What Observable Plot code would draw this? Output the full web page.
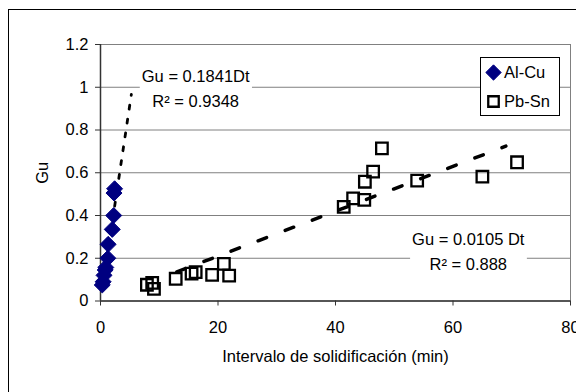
<!DOCTYPE html>
<html>
<head>
<meta charset="utf-8">
<script src="https://cdn.jsdelivr.net/npm/d3@7"></script>
<script src="https://cdn.jsdelivr.net/npm/@observablehq/plot@0.6"></script>
<style>
  body { margin: 0; background: #fff; }
  #wrap { position: relative; width: 576px; height: 392px; overflow: hidden; font-family: "Liberation Sans", Arial, sans-serif; }
  #outer { position: absolute; left: 8px; top: 9px; width: 700px; height: 500px; border-left: 1px solid #000; border-top: 1px solid #000; }
  #legend { position: absolute; left: 480px; top: 57px; width: 78px; height: 57px; border: 1px solid #000; background: #fff; font-size: 16.5px; }
  #legend .row { position: absolute; left: 0; height: 20px; display: flex; align-items: center; }
  #legend svg { margin-left: 4px; margin-right: 2px; }
</style>
</head>
<body>
<div id="wrap"><div id="outer"></div></div>
<script>
// Series names
const seriesNames = ["Al-Cu", "Pb-Sn"];

// Al-Cu data
const alCuDt = [0.3, 0.45, 0.6, 0.8, 0.9, 1.25, 1.3, 2.0, 2.25, 2.3, 2.4];
const alCuGu = [0.075, 0.09, 0.12, 0.145, 0.157, 0.2, 0.265, 0.335, 0.4, 0.505, 0.525];

// Pb-Sn data
const pbSnDt = [7.9, 8.8, 9.1, 12.8, 15.5, 16.2, 19.0, 21.0, 21.9, 41.4, 43.0, 44.9, 45.0, 46.4, 47.9, 53.9, 65.0, 70.9];
const pbSnGu = [0.076, 0.085, 0.057, 0.104, 0.128, 0.135, 0.122, 0.174, 0.119, 0.44, 0.48, 0.473, 0.558, 0.605, 0.714, 0.563, 0.582, 0.649];

// Trend lines (through origin): slope and x extent
const trendSlopes = [0.1841, 0.0105];
const trendXStart = [0.3, 13];
const trendXEnd = [5.25, 69];

// Trend labels
const trendLabels = ["Gu = 0.1841Dt\nR² = 0.9348", "Gu = 0.0105 Dt\nR² = 0.888"];
const trendLabelX = [16.2, 62.6];
const trendLabelY = [1.005, 0.24];

// Ticks
const xTicks = [0, 20, 40, 60, 80];
const yTicks = [0, 0.2, 0.4, 0.6, 0.8, 1, 1.2];

const alCu = alCuDt.map((d, i) => ({x: d, y: alCuGu[i]}));
const pbSn = pbSnDt.map((d, i) => ({x: d, y: pbSnGu[i]}));
const trend = trendSlopes.map((s, i) => [
  {x: trendXStart[i], y: s * trendXStart[i]},
  {x: trendXEnd[i], y: s * trendXEnd[i]}
]);
const labels = trendLabels.map((t, i) => ({t, x: trendLabelX[i], y: trendLabelY[i]}));

const plot = Plot.plot({
  width: 576,
  height: 392,
  marginLeft: 100,
  marginRight: 6,
  marginTop: 44,
  marginBottom: 91.5,
  style: {fontFamily: "Liberation Sans, Arial, sans-serif", fontSize: "16.5px", color: "#000", background: "transparent", overflow: "visible"},
  x: {domain: [0, 80]},
  y: {domain: [0, 1.2]},
  marks: [
    Plot.gridY(yTicks.slice(1), {stroke: "#808080", strokeOpacity: 1}),
    Plot.frame({stroke: "#808080"}),
    Plot.ruleX([0], {stroke: "#333", strokeWidth: 1.5}),
    Plot.ruleY([0], {stroke: "#333", strokeWidth: 1.5}),
    Plot.axisY({ticks: yTicks, tickSize: 5, tickPadding: 7, tickFormat: d => String(d), label: "Gu", labelAnchor: "center", labelOffset: 64, labelArrow: "none", stroke: "#333"}),
    Plot.axisX({ticks: xTicks, tickSize: 5, tickPadding: 15, tickFormat: d => String(d), label: "Intervalo de solidificación (min)", labelAnchor: "center", labelOffset: 61, labelArrow: "none", stroke: "#333"}),
    Plot.text(labels, {x: "x", y: "y", text: "t", fontSize: 16.5, lineHeight: 1.52, fill: "#000"}),
    Plot.line(trend[0], {x: "x", y: "y", stroke: "#000", strokeWidth: 2.8, strokeDasharray: "4,10"}),
    Plot.line(trend[1], {x: "x", y: "y", stroke: "#000", strokeWidth: 3.5, strokeDasharray: "9,20"}),
    Plot.dot(alCu, {x: "x", y: "y", symbol: "diamond2", r: 7.2, fill: "#000080", stroke: "#000080", strokeWidth: 1}),
    Plot.dot(pbSn, {x: "x", y: "y", symbol: "square", r: 6.5, fill: "none", stroke: "#000", strokeWidth: 2.3})
  ]
});

const wrap = document.getElementById("wrap");
plot.style.position = "absolute";
plot.style.left = "0px";
plot.style.top = "0px";
wrap.appendChild(plot);

// White boxes behind trend labels (same transform as the text)
d3.select(plot).selectAll('g[aria-label="text"] text').each(function() {
  const b = this.getBBox();
  d3.select(this.parentNode).insert("rect", () => this)
    .attr("transform", this.getAttribute("transform"))
    .attr("x", b.x - 2).attr("y", b.y - 1)
    .attr("width", b.width + 4).attr("height", b.height + 2)
    .attr("fill", "#fff");
});

// Legend
const legend = document.createElement("div");
legend.id = "legend";
wrap.appendChild(legend);
const legendSymbols = [
  {type: d3.symbolDiamond2, size: 150, fill: "#000080", stroke: "#000080", sw: 1},
  {type: d3.symbolSquare, size: 110, fill: "none", stroke: "#000", sw: 2.3}
];
seriesNames.forEach((name, i) => {
  const row = document.createElement("div");
  row.className = "row";
  row.style.top = (4 + i * 29) + "px";
  const s = legendSymbols[i];
  const svg = d3.create("svg").attr("width", 17).attr("height", 17);
  svg.append("path").attr("transform", "translate(8.5,8.5)")
    .attr("d", d3.symbol(s.type, s.size)())
    .attr("fill", s.fill).attr("stroke", s.stroke).attr("stroke-width", s.sw);
  row.appendChild(svg.node());
  const span = document.createElement("span");
  span.textContent = name;
  row.appendChild(span);
  legend.appendChild(row);
});
</script>
</body>
</html>
